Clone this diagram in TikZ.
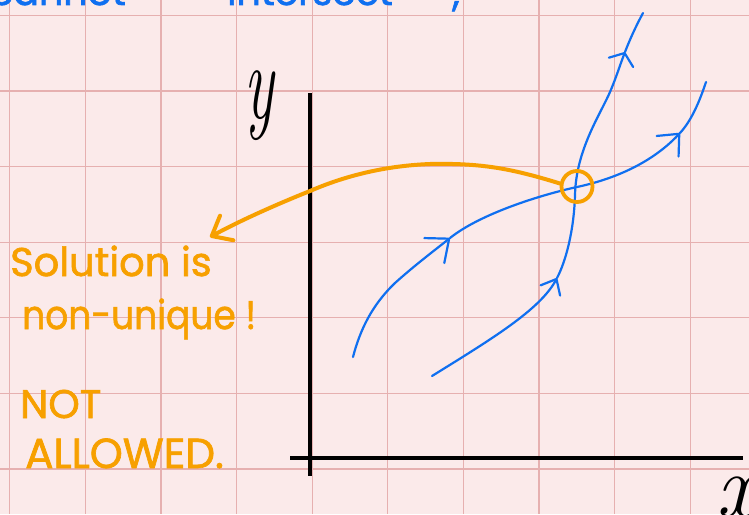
\documentclass[tikz,border=0pt]{standalone}
\usepackage{fontspec}
\newfontfamily\hand{Poppins}[FakeBold=1.6]
\usetikzlibrary{arrows.meta}
\definecolor{bg}{HTML}{FBEAEA}
\definecolor{gridc}{HTML}{E6B0B0}
\definecolor{ink}{HTML}{0F6FF0}
\definecolor{orng}{HTML}{F7A000}
\tikzset{
  gridline/.style={draw=gridc, line width=1.2pt},
  axisline/.style={draw=black, line width=4.5pt},
  flow/.style={draw=ink, line width=2.2pt, line cap=round, line join=round},
  barb/.style 2 args={-{Straight Barb[length=#1,width=#2,round]}},
  note/.style={text=orng, anchor=base west, inner sep=0pt, font=\hand\fontsize{40}{40}\selectfont},
  toptext/.style={text=ink, inner sep=0pt, font=\hand\fontsize{38}{38}\selectfont},
  pointer/.style={draw=orng, line width=4pt, line cap=round, line join=round},
}
\begin{document}
\begin{tikzpicture}[x=1pt,y=-1pt]
\useasboundingbox (0,0) rectangle (749,514);
\clip (0,0) rectangle (749,514);
\fill[bg] (0,0) rectangle (749,514);
\foreach \i in {0,...,9} \draw[gridline] ({9.7+75.6*\i},0) -- ({9.7+75.6*\i},514);
\foreach \j in {0,...,6} \draw[gridline] (0,{15.3+75.6*\j}) -- (749,{15.3+75.6*\j});

% top text (cut off at the top edge, as in the reference)
\node[toptext, anchor=base east] (t1) at (126,5) {cannot};
\node[toptext, anchor=base west] (t2) at (227,5) {intersect};
\node[toptext, anchor=base west] (t3) at (452,6) {,};

% axes
\coordinate (ytop) at (310,93);
\coordinate (ybot) at (310,476);
\coordinate (xl) at (290,458);
\coordinate (xr) at (743,458);
\draw[axisline] (ytop) -- (ybot);
\draw[axisline] (xl) -- (xr);
\node[anchor=base, inner sep=0pt] (ylab) at (259,118) {\fontsize{62}{62}\selectfont\scalebox{1}[1.75]{\itshape y}};
\node[anchor=base west, inner sep=0pt] (xlab) at (716,516) {\fontsize{90}{90}\selectfont\itshape x};

% blue curve A (steep)
\coordinate (a0) at (432,376);
\coordinate (a1) at (557,278);
\coordinate (a2) at (625,52);
\coordinate (a3) at (643,13);
\draw[flow, barb={13pt}{22pt}] (a0) .. controls (490,340) and (540,310) .. (a1);
\draw[flow, barb={10pt}{26pt}] (a1) .. controls (566,261) and (574,230) .. (575,195)
   .. controls (576,150) and (600,115) .. (610,92)
   .. controls (616,78) and (620,65) .. (a2);
\draw[flow] (a2) .. controls (630,39) and (636,26) .. (a3);

% blue curve B (flat)
\coordinate (b0) at (353,357);
\coordinate (b1) at (450,238);
\coordinate (b2) at (680,133);
\coordinate (b3) at (706,82);
\draw[flow, barb={19pt}{32pt}] (b0) .. controls (360,330) and (372,305) .. (395,283)
   .. controls (415,265) and (435,250) .. (b1);
\draw[flow, barb={17pt}{30pt}] (b1) .. controls (480,214) and (540,195) .. (577,187)
   .. controls (610,180) and (650,165) .. (b2);
\draw[flow] (b2) .. controls (692,120) and (700,100) .. (b3);

% orange circle and pointer
\node[draw=orng, line width=3.8pt, circle, minimum size=31pt, inner sep=0pt] (c) at (577,186.5) {};
\coordinate (tipo) at (210,237);
\draw[pointer, barb={17pt}{28pt}] (c.170) .. controls (510,168) and (480,163) .. (430,164)
   .. controls (380,166) and (340,178) .. (310,191)
   .. controls (285,201) and (245,218) .. (tipo);

% orange notes
\node[note] (n1) at (10,276) {Solution is};
\node[note] (n2) at (22,329) {\scalebox{0.9}[1]{non-unique !}};
\node[note] (n3) at (20,418) {NOT};
\node[note, font=\hand\fontsize{42}{42}\selectfont] (n4) at (25,468) {ALLOWED.};
\end{tikzpicture}
\end{document}
